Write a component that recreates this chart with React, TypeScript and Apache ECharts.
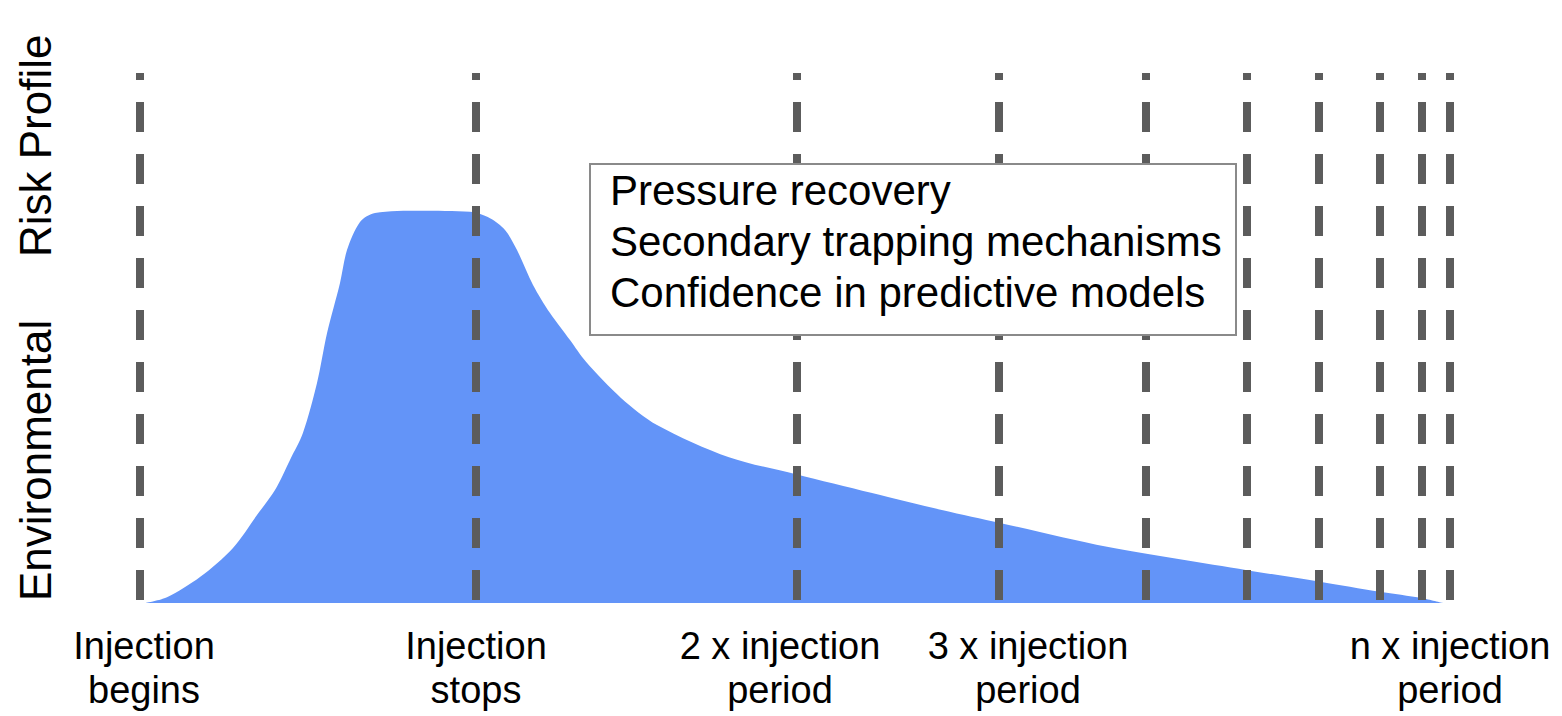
import React, { useEffect, useRef } from "react";
import * as echarts from "echarts";

// Risk profile curve: [time (arbitrary units), risk (0-100)]
const RISK_TIME = [0.5, 2.7, 6.0, 9.3, 11.7, 13.5, 15.0, 16.3, 17.7, 18.7, 20.0, 20.7, 22.0, 23.5, 28.0, 33.0, 35.0, 36.5, 37.7, 39.3, 41.0, 43.0, 44.6, 48.1, 51.7, 58.9, 65.6, 73.1, 80.3, 86.0, 96.7, 110.7, 118.0, 124.0, 128.2, 130.3];
const RISK_VALUE = [0, 1.1, 4.9, 10.4, 16.6, 21.3, 27.0, 32.1, 41.5, 50.9, 60.4, 66.6, 71.9, 73.6, 74.0, 73.8, 72.6, 70.4, 66.6, 60.0, 54.7, 49.6, 45.5, 38.7, 33.6, 27.5, 24.3, 20.8, 17.5, 15.1, 10.6, 6.2, 4.0, 2.1, 0.9, 0];

// Dashed vertical time markers
const MARKER_TIMES = [0, 33.6, 65.7, 85.9, 100.6, 110.7, 117.9, 124.0, 128.2, 131.0];
const MARKER_LOW = 0;
const MARKER_HIGH = 100;

// X-axis labels
const LABEL_TIMES = [0.4, 33.6, 64.0, 88.8, 131.0];
const LABEL_TEXTS = [
  "Injection\nbegins",
  "Injection\nstops",
  "2 x injection\nperiod",
  "3 x injection\nperiod",
  "n x injection\nperiod",
];

const BOX_LINES = [
  "Pressure recovery",
  "Secondary trapping mechanisms",
  "Confidence in predictive models",
];

const Y_TITLE_A = "Environmental";
const Y_TITLE_B = "Risk Profile";

const FONT = "'Liberation Sans', Arial, Helvetica, sans-serif";

export default function App() {
  const ref = useRef<HTMLDivElement>(null);

  useEffect(() => {
    if (!ref.current) return;
    const chart = echarts.init(ref.current, undefined, { renderer: "svg" });

    const areaData = RISK_TIME.map((t, i) => [t, RISK_VALUE[i]]);

    const markerSeries = MARKER_TIMES.map((t) => ({
      type: "line",
      data: [
        [t, MARKER_LOW],
        [t, MARKER_HIGH],
      ],
      showSymbol: false,
      symbol: "none",
      clip: false,
      silent: true,
      z: 3,
      lineStyle: {
        color: "#5c5c5c",
        width: 8,
        type: [30, 22],
        dashOffset: 49,
        cap: "butt",
      },
    }));

    const option: any = {
      animation: false,
      backgroundColor: "#ffffff",
      grid: { left: 140, top: 73, width: 1330, height: 530, containLabel: false },
      xAxis: {
        type: "value",
        min: 0,
        max: 133,
        axisLine: { show: false },
        axisTick: { show: false },
        splitLine: { show: false },
        axisLabel: {
          customValues: LABEL_TIMES,
          formatter: (v: number) => {
            let best = 0;
            let bd = Infinity;
            LABEL_TIMES.forEach((lt, i) => {
              const d = Math.abs(lt - v);
              if (d < bd) {
                bd = d;
                best = i;
              }
            });
            return LABEL_TEXTS[best];
          },
          fontSize: 38,
          lineHeight: 44,
          color: "#000",
          fontFamily: FONT,
          margin: 21,
          align: "center",
        },
      },
      yAxis: {
        type: "value",
        min: 0,
        max: 100,
        show: false,
      },
      series: [
        {
          type: "line",
          data: areaData,
          smooth: 0.3,
          showSymbol: false,
          symbol: "none",
          z: 1,
          lineStyle: { width: 0, color: "#6394f8" },
          areaStyle: { color: "#6394f8", opacity: 1 },
        },
        ...markerSeries,
      ],
      graphic: [
        {
          type: "rect",
          z: 100,
          shape: { x: 590, y: 164, width: 646, height: 171 },
          style: { fill: "#ffffff", stroke: "#8a8a8a", lineWidth: 2 },
        },
        {
          type: "text",
          z: 101,
          x: 610,
          y: 165,
          style: {
            text: BOX_LINES.join("\n"),
            fontSize: 42,
            lineHeight: 51,
            fontFamily: FONT,
            fill: "#000",
            align: "left",
            verticalAlign: "top",
          },
        },
        {
          type: "text",
          z: 101,
          x: 35,
          y: 601,
          rotation: Math.PI / 2,
          style: {
            text: Y_TITLE_A,
            fontSize: 44,
            fontFamily: FONT,
            fill: "#000",
            align: "left",
            verticalAlign: "middle",
          },
        },
        {
          type: "text",
          z: 101,
          x: 35,
          y: 257,
          rotation: Math.PI / 2,
          style: {
            text: Y_TITLE_B,
            fontSize: 44,
            fontFamily: FONT,
            fill: "#000",
            align: "left",
            verticalAlign: "middle",
          },
        },
      ],
    };

    chart.setOption(option);
    return () => chart.dispose();
  }, []);

  return (
    <div
      ref={ref}
      style={{ position: "fixed", left: 0, top: 0, width: 1562, height: 716 }}
    />
  );
}
